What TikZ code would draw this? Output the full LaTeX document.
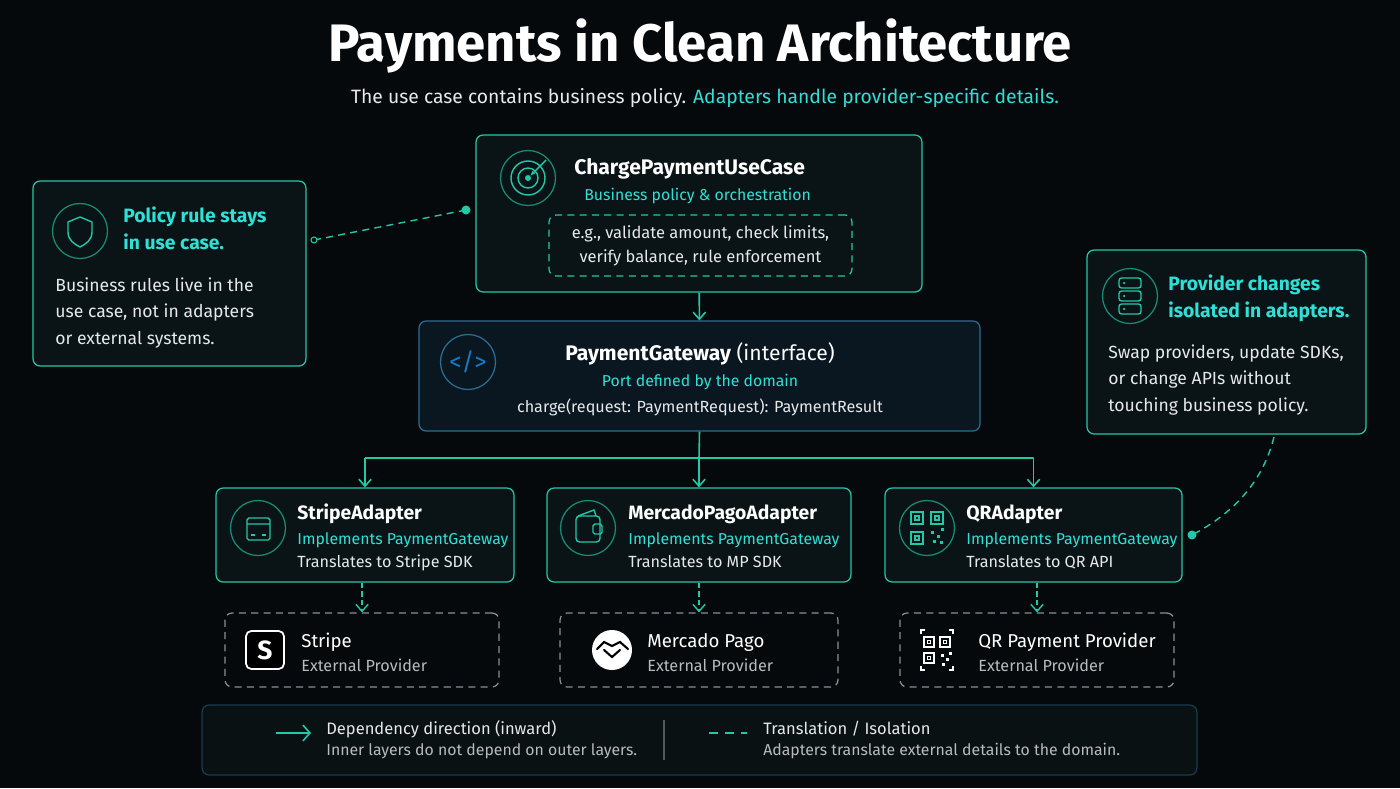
\documentclass[tikz,border=0pt]{standalone}
\usepackage{fontspec}
\setmainfont{Fira Sans}
\usetikzlibrary{positioning,arrows.meta}
\definecolor{bgc}{HTML}{06090C}
\definecolor{boxfill}{HTML}{0A1416}
\definecolor{gwfill}{HTML}{0A1620}
\definecolor{teal}{HTML}{22C9A8}
\definecolor{cyantext}{HTML}{2EE0D6}
\definecolor{bluebord}{HTML}{2C6E93}
\definecolor{greyline}{HTML}{8A8F94}
\definecolor{softwhite}{HTML}{E6E8EA}
\tikzset{
box/.style={rectangle,rounded corners=4pt,draw=teal,fill=boxfill,line width=0.7pt},
extbox/.style={rectangle,rounded corners=4pt,draw=greyline,dashed,dash pattern=on 4pt off 3pt,fill=bgc,line width=0.7pt},
icon/.style={circle,draw=teal!70!black,line width=0.7pt,minimum size=1.1cm,fill=boxfill},
head/.style={anchor=base west,inner sep=0pt,text=white,font=\bfseries\fontsize{11}{13}\selectfont},
sub/.style={anchor=base west,inner sep=0pt,text=cyantext,font=\fontsize{9}{11}\selectfont},
txt/.style={anchor=base west,inner sep=0pt,text=softwhite,font=\fontsize{9.4}{11}\selectfont},
dep/.style={-{Straight Barb[length=4pt,width=7pt]},teal,line width=0.9pt},
trans/.style={-{Straight Barb[length=4pt,width=7pt]},teal,line width=0.8pt,dash pattern=on 3pt off 2pt},
}
\begin{document}
\begin{tikzpicture}[x=0.02cm,y=-0.02cm]
\fill[bgc] (0,0) rectangle (1400,788);
\useasboundingbox (0,0) rectangle (1400,788);
% title
\node (title) at (700,46) [text=white,font=\bfseries\fontsize{30}{34}\selectfont] {Payments in Clean Architecture};
\node (subtitle) at (705,98) [font=\fontsize{11}{13}\selectfont] {\textcolor{softwhite}{The use case contains business policy.} \textcolor{cyantext}{Adapters handle provider-specific details.}};
% use case
\node (usecase) at (699,213.5) [box,minimum width=8.92cm,minimum height=3.14cm] {};
\node (ucicon) at (528,178) [icon] {};
\draw[teal,line width=0.8pt] (ucicon) circle (0.34cm) (ucicon) circle (0.2cm);
\fill[teal] (ucicon) circle (0.06cm);
\draw[teal,line width=0.8pt,-{Latex[length=3pt]}] (546,160) -- (530,176);
\node (uchead) at (574,174) [head,font=\bfseries\fontsize{12}{14}\selectfont] {ChargePaymentUseCase};
\node (ucsub) at (584,200) [sub] {Business policy \& orchestration};
\node (rules) at (700.5,245.5) [box,dashed,dash pattern=on 4pt off 3pt,fill=boxfill,minimum width=6.06cm,minimum height=1.22cm,align=center,text=softwhite,font=\fontsize{9.4}{13.5}\selectfont] {e.g., validate amount, check limits,\\verify balance, rule enforcement};
% policy note
\node (policy) at (169.5,273.5) [box,minimum width=5.46cm,minimum height=3.7cm] {};
\node (policyicon) at (80,231) [icon] {};
\draw[teal,line width=0.8pt,line join=round] (80,217) -- (92,222) -- (92,232) .. controls (92,240) and (86,244) .. (80,247) .. controls (74,244) and (68,240) .. (68,232) -- (68,222) -- cycle;
\node (policyhead) at (123,224) [head,text=cyantext,align=left,font=\bfseries\fontsize{11}{15.3}\selectfont,anchor=north west,yshift=10pt] {Policy rule stays\\in use case.};
\node (policytxt) at (55,277) [txt,anchor=north west,align=left,font=\fontsize{10}{15.3}\selectfont] {Business rules live in the\\use case, not in adapters\\or external systems.};
\coordinate (policyend) at (314,240);
\coordinate (ucdot) at (466,210);
\draw[teal,line width=0.8pt,dash pattern=on 4pt off 3pt] (policyend) -- (ucdot);
\fill[teal] (ucdot) circle (0.09cm);
\draw[teal,fill=bgc,line width=0.6pt] (policyend) circle (0.06cm);
% gateway
\node (gateway) at (699.5,376) [box,draw=bluebord,fill=gwfill,minimum width=11.22cm,minimum height=2.2cm] {};
\node (gwicon) at (468,362) [icon,draw=bluebord,fill=gwfill] {};
\node at (gwicon) [text=cyan!60!blue,font=\fontsize{14}{14}\selectfont] {</>};
\node (gwhead) at (700,360) [anchor=base,text=white,font=\fontsize{12}{14}\selectfont] {\textbf{PaymentGateway} (interface)};
\node (gwsub) at (700,386) [anchor=base,text=cyantext,font=\fontsize{9}{11}\selectfont] {Port defined by the domain};
\node (gwsig) at (700,412) [anchor=base,text=softwhite,font=\fontsize{9.2}{11}\selectfont] {charge(request: PaymentRequest): PaymentResult};
\draw[dep] (usecase) -- (gateway);
% adapters
\node (stripead) at (365,535) [box,minimum width=5.96cm,minimum height=1.88cm] {};
\node (mpad) at (699,535) [box,minimum width=6.08cm,minimum height=1.88cm] {};
\node (qrad) at (1033.5,535) [box,minimum width=5.94cm,minimum height=1.88cm] {};
\coordinate (bus) at (699,458);
\draw[teal,line width=0.9pt] (gateway.south) -- (bus) (bus -| stripead) -- (bus -| qrad);
\foreach \ad in {stripead,mpad,qrad}
  \draw[dep] (bus -| \ad) -- (\ad.north);
\node (stripeicon) at (258,528) [icon] {};
\draw[teal,line width=0.8pt,rounded corners=1pt] (247,518) rectangle (270,540) (247,524) -- (270,524);
\draw[teal,line width=0.8pt] (251,535) -- (255,535) (262,535) -- (266,535);
\node (mpicon) at (588,528) [icon] {};
\draw[teal,line width=0.8pt,rounded corners=2pt] (576,516) rectangle (600,542);
\draw[teal,line width=0.8pt,rounded corners=1pt] (593,524) rectangle (602,534);
\draw[teal,line width=0.8pt] (578,516) -- (594,510) -- (596,516);
\node (qricon) at (927,528) [icon] {};
\foreach \qx/\qy in {917/518,937/518,917/538}
  \draw[teal,line width=0.8pt] (\qx-6,\qy-6) rectangle (\qx+6,\qy+6) (\qx-2,\qy-2) rectangle (\qx+2,\qy+2);
\foreach \qx/\qy in {932/532,938/536,934/541,942/529,941/542}
  \fill[teal] (\qx-1.5,\qy-1.5) rectangle (\qx+1.5,\qy+1.5);
\foreach \ad/\ax/\name/\sdk in {stripead/297/StripeAdapter/Stripe SDK,mpad/628/MercadoPagoAdapter/MP SDK,qrad/966/QRAdapter/QR API}{
  \node (\ad head) at (\ax,519) [head] {\name};
  \node (\ad sub) at (\ax,544) [sub] {Implements PaymentGateway};
  \node (\ad txt) at (\ax,567) [txt,font=\fontsize{9.2}{11}\selectfont] {Translates to \sdk};
}
% providers
\node (stripe) at (362,650) [extbox,minimum width=5.48cm,minimum height=1.48cm] {};
\node (mercado) at (699,650) [extbox,minimum width=5.56cm,minimum height=1.48cm] {};
\node (qrprov) at (1037,650) [extbox,minimum width=5.48cm,minimum height=1.48cm] {};
\draw[trans] (stripead.south -| stripe) -- (stripe.north);
\draw[trans] (mpad.south) -- (mercado.north);
\draw[trans] (qrad.south -| qrprov) -- (qrprov.north);
\node (stripelogo) at (265,650) [rectangle,rounded corners=3pt,draw=white,fill=black,line width=1pt,minimum width=0.76cm,minimum height=0.76cm,text=white,font=\bfseries\fontsize{15}{15}\selectfont] {S};
\node (mplogo) at (612,650) [circle,fill=white,minimum size=0.8cm,inner sep=0pt] {};
\draw[black,line width=1.2pt,line cap=round] (597,649) -- (604,642) -- (612,646) -- (620,642) -- (628,649) (604,650) -- (612,657) -- (620,650);
\foreach \qx/\qy in {929/642,945/642,929/658}
  \draw[white,line width=0.9pt] (\qx-5,\qy-5) rectangle (\qx+5,\qy+5) (\qx-1.5,\qy-1.5) rectangle (\qx+1.5,\qy+1.5);
\draw[white,line width=1pt] (921,634) -- (921,630) -- (925,630) (953,634) -- (953,630) -- (949,630)
  (921,666) -- (921,670) -- (925,670) (953,666) -- (953,670) -- (949,670);
\foreach \qx/\qy in {942/655,947/659,943/664,950/653}
  \fill[white] (\qx-1.5,\qy-1.5) rectangle (\qx+1.5,\qy+1.5);
\foreach \pv/\px/\name in {stripe/301/Stripe,mercado/647/Mercado Pago,qrprov/978/QR Payment Provider}{
  \node (\pv head) at (\px,647) [txt,text=white,font=\fontsize{10.6}{13}\selectfont] {\name};
  \node (\pv sub) at (\px,671) [txt,text=softwhite!80!black,font=\fontsize{9.2}{11}\selectfont] {External Provider};
}
% provider note
\node (provnote) at (1226.5,342) [box,minimum width=5.58cm,minimum height=3.68cm] {};
\node (provicon) at (1130,296) [icon] {};
\foreach \sy in {283,296,309}
  \draw[teal,line width=0.8pt,rounded corners=1.5pt] (1119,\sy-5) rectangle (1141,\sy+5);
\foreach \sy in {283,296,309}
  \fill[teal] (1124,\sy) circle (0.025cm);
\node (provhead) at (1168,292) [head,text=cyantext,align=left,font=\bfseries\fontsize{11}{15.3}\selectfont,anchor=north west,yshift=10pt] {Provider changes\\isolated in adapters.};
\node (provtxt) at (1108,344) [txt,anchor=north west,align=left,font=\fontsize{10}{15.3}\selectfont] {Swap providers, update SDKs,\\or change APIs without\\touching business policy.};
\coordinate (provend) at (1274,437);
\coordinate (qrdot) at (1192,535);
\draw[teal,line width=0.8pt,dash pattern=on 4pt off 3pt] (provend) .. controls (1262,485) and (1230,515) .. (qrdot);
\fill[teal] (qrdot) circle (0.09cm);
% legend
\node (legend) at (699.5,740) [box,draw=bluebord!50!bgc,fill=boxfill!70!bgc,minimum width=19.9cm,minimum height=1.4cm] {};
\coordinate (depstart) at (276,733);
\coordinate (depend) at (311,733);
\draw[dep,-{Straight Barb[length=4pt,width=9pt]}] (depstart) -- (depend);
\node (dephead) at (326,734) [txt,font=\fontsize{9.4}{11}\selectfont] {Dependency direction (inward)};
\node (deptxt) at (326,755) [txt,text=softwhite!80!black,font=\fontsize{9}{11}\selectfont] {Inner layers do not depend on outer layers.};
\coordinate (divtop) at (664,720);
\coordinate (divbot) at (664,760);
\draw[greyline!60!bgc,line width=0.7pt] (divtop) -- (divbot);
\coordinate (trstart) at (709,733);
\coordinate (trend) at (747,733);
\draw[teal,line width=0.9pt,dash pattern=on 5pt off 4pt] (trstart) -- (trend);
\node (trhead) at (763,734) [txt,font=\fontsize{9.4}{11}\selectfont] {Translation / Isolation};
\node (trtxt) at (763,755) [txt,text=softwhite!80!black,font=\fontsize{9}{11}\selectfont] {Adapters translate external details to the domain.};
\end{tikzpicture}
\end{document}
